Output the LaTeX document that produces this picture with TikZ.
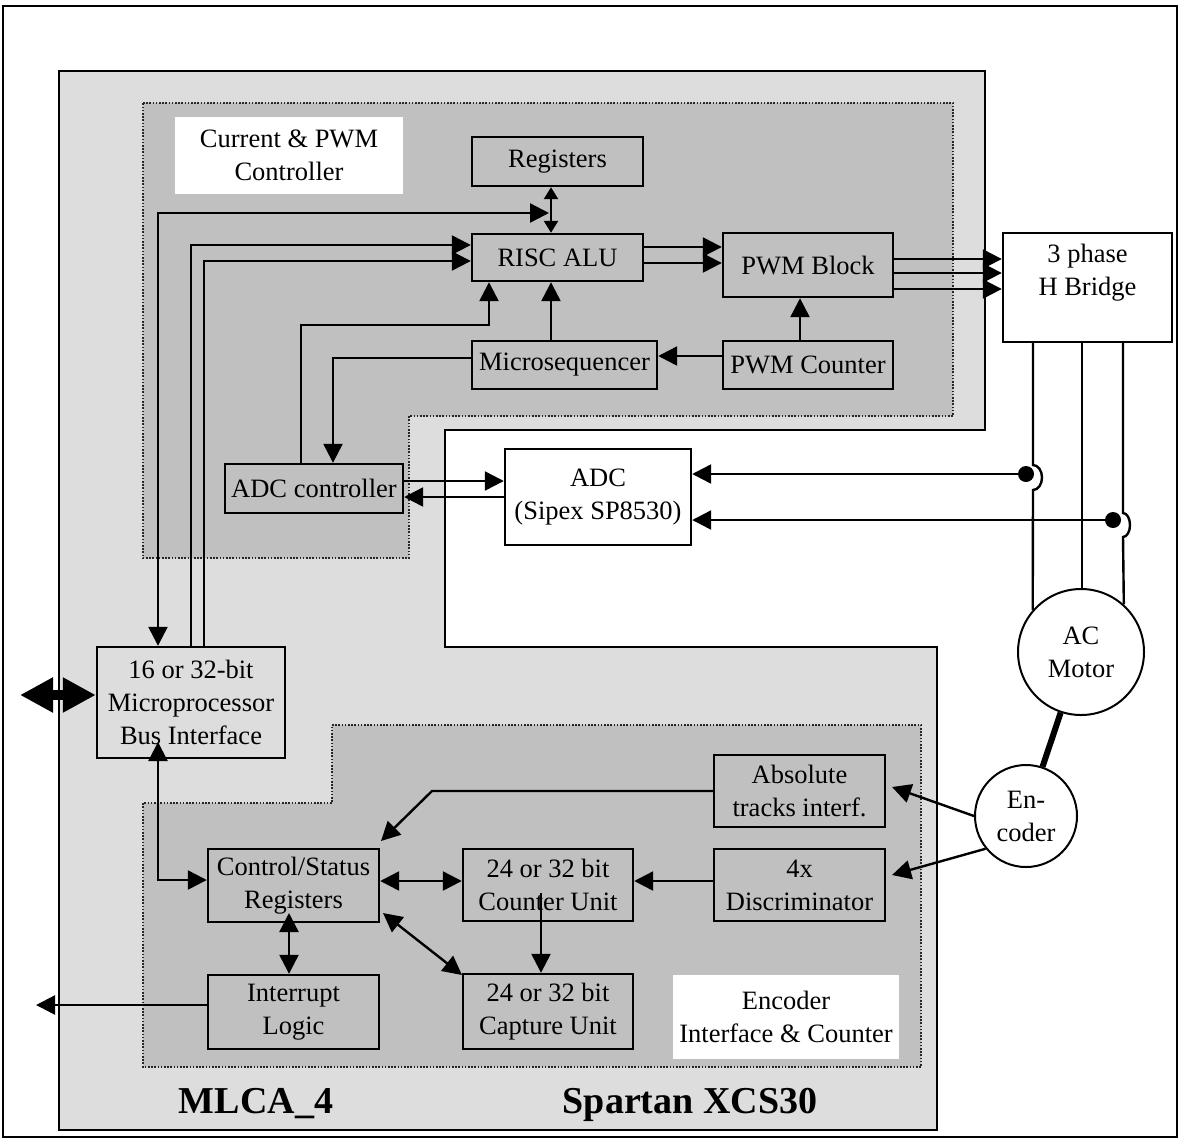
\documentclass[tikz,border=0pt]{standalone}
\usepackage{fontspec}
\setmainfont{Liberation Serif}
\usetikzlibrary{arrows.meta}
\definecolor{lgray}{HTML}{DDDDDD}
\definecolor{dgray}{HTML}{C0C0C0}
\newcommand{\fs}{\fontsize{26.5}{33}\selectfont}
\newcommand{\fbig}{\fontsize{38}{40}\selectfont\bfseries}
\begin{document}
\begin{tikzpicture}[x=1pt,y=-1pt,
  >={Triangle[length=19pt,width=19pt]},
  wire/.style={line width=2.4pt},
  box/.style={draw, line width=2.4pt, fill=dgray, inner sep=0pt, align=center, font=\fs},
  wbox/.style={box, fill=white},
  lbl/.style={fill=white, inner sep=0pt, align=center, font=\fs},
  dreg/.style={fill=dgray, draw=black!85, line width=1.6pt, dash pattern=on 1.6pt off 1.6pt},
  rnd/.style={circle, draw, line width=2pt, fill=white, inner sep=0pt, align=center, font=\fs}
]
\useasboundingbox (0,0) rectangle (1182,1141);
% frame and regions
\draw[line width=2.5pt, fill=white] (3,6) rectangle (1177,1137);
\draw[line width=2.4pt, fill=lgray] (59,71) -- (985,71) -- (985,430) -- (445,430) -- (445,647) -- (937,647) -- (937,1130) -- (59,1130) -- cycle;
\draw[dreg] (143,103) -- (953,103) -- (953,416) -- (409,416) -- (409,558) -- (143,558) -- cycle;
\draw[dreg] (332,725) -- (921,725) -- (921,1067) -- (143,1067) -- (143,803) -- (332,803) -- cycle;
% labels
\node[lbl, minimum width=228pt, minimum height=77pt] (cpwm) at (289,155.5) {Current \& PWM\\Controller};
\node[lbl, minimum width=226pt, minimum height=84pt] (encl) at (786,1017) {Encoder\\Interface \& Counter};
\node[font=\fbig, anchor=base] (mlca) at (256,1113) {MLCA\_4};
\node[font=\fbig, anchor=base] (spartan) at (690,1113) {Spartan XCS30};
% blocks
\node[box, minimum width=171pt, minimum height=49pt] (reg) at (557.5,161.5) {Registers};
\node[box, minimum width=171pt, minimum height=47pt] (alu) at (557.5,257.5) {RISC ALU};
\node[box, minimum width=170pt, minimum height=64pt] (pwm) at (808,265) {PWM Block};
\node[box, minimum width=170pt, minimum height=48pt] (pwmc) at (808,365) {PWM Counter};
\node[box, minimum width=185pt, minimum height=48pt] (mseq) at (564.5,365) {Microsequencer};
\node[wbox, minimum width=169pt, minimum height=109pt] (hb) at (1087.5,287.5) {};
\node[font=\fs, align=center] (hbt) at (1087.5,273) {3 phase\\H Bridge};
\node[box, minimum width=178pt, minimum height=49pt] (adcc) at (314,488.5) {ADC controller};
\node[wbox, minimum width=186pt, minimum height=96pt] (adc) at (598,497) {ADC\\(Sipex SP8530)};
\node[box, fill=lgray, minimum width=188pt, minimum height=111pt] (bus) at (191,702.5) {16 or 32-bit\\Microprocessor\\Bus Interface};
\node[box, minimum width=171pt, minimum height=72pt] (abs) at (799.5,791) {Absolute\\tracks interf.};
\node[box, minimum width=171pt, minimum height=72pt] (disc) at (799.5,885) {4x\\Discriminator};
\node[box, minimum width=171pt, minimum height=73pt] (cs) at (293.5,885.5) {Control/Status\\Registers};
\node[box, minimum width=170pt, minimum height=72pt] (cnt) at (548,885) {24 or 32 bit\\Counter Unit};
\node[box, minimum width=171pt, minimum height=74pt] (intr) at (293.5,1012) {Interrupt\\Logic};
\node[box, minimum width=170pt, minimum height=75pt] (cap) at (548,1011.5) {24 or 32 bit\\Capture Unit};
\node[rnd, minimum size=126pt] (motor) at (1081,652) {AC\\Motor};
\node[rnd, minimum size=102pt] (enc) at (1026,816) {En-\\coder};
% coordinates
\coordinate (j1) at (549,213);
\coordinate (xr) at (551,0);
\coordinate (xb1) at (158,0);
\coordinate (a1) at (191,245);
\coordinate (a2) at (204,261);
\coordinate (p1) at (0,247);
\coordinate (p2) at (0,263);
\coordinate (h1) at (0,259);
\coordinate (h2) at (0,273);
\coordinate (h3) at (0,289);
\coordinate (c1) at (800,0);
\coordinate (m1) at (0,356);
\coordinate (q1) at (301,325);
\coordinate (q2) at (489,325);
\coordinate (r1) at (333,358);
\coordinate (s1) at (0,481);
\coordinate (s2) at (0,497);
\coordinate (d1) at (1026,474);
\coordinate (d2) at (1113,520);
\coordinate (w1) at (1033,465);
\coordinate (w2) at (1082,0);
\coordinate (w3) at (1123,513);
\coordinate (e1) at (892,787);
\coordinate (e2) at (892,875);
\coordinate (k1) at (0,881);
\coordinate (k2) at (541,893);
\coordinate (k3) at (383,913);
\coordinate (k4) at (462,975);
\coordinate (k5) at (289,913);
\coordinate (o1) at (36,1005);
\coordinate (k6) at (158,742);
\coordinate (k7) at (158,880);
\coordinate (k8) at (432,791);
\coordinate (k9) at (381,841);
\coordinate (z1) at (20,695);
% connectors top
\draw[wire, {Triangle[length=12pt,width=14pt]}-{Triangle[length=12pt,width=14pt]}] (reg.south -| xr) -- (alu.north -| xr);
\draw[wire,<->] (bus.north -| xb1) |- (j1);
\draw[wire,->] (bus.north -| a1) |- (alu.west |- a1);
\draw[wire,->] (bus.north -| a2) |- (alu.west |- a2);
\draw[wire,->] (alu.east |- p1) -- (pwm.west |- p1);
\draw[wire,->] (alu.east |- p2) -- (pwm.west |- p2);
\draw[wire,->] (pwm.east |- h1) -- (hb.west |- h1);
\draw[wire,->] (pwm.east |- h2) -- (hb.west |- h2);
\draw[wire,->] (pwm.east |- h3) -- (hb.west |- h3);
\draw[wire,->] (pwmc.north -| c1) -- (pwm.south -| c1);
\draw[wire,->] (pwmc.west |- m1) -- (mseq.east |- m1);
\draw[wire,->] (mseq.north -| xr) -- (alu.south -| xr);
\draw[wire,->] (adcc.north -| q1) -- (q1) -- (q2) -- (alu.south -| q2);
\draw[wire,->] (mseq.west |- r1) -- (r1) -- (adcc.north -| r1);
\draw[wire,->] (adcc.east |- s1) -- (adc.west |- s1);
\draw[wire,->] (adc.west |- s2) -- (adcc.east |- s2);
% ADC sensing and motor wires
\draw[wire,->] (d1) -- (adc.east |- d1);
\draw[wire,->] (d2) -- (adc.east |- d2);
\fill (d1) circle[radius=8pt];
\fill (d2) circle[radius=8pt];
\draw[wire] (hb.south -| w1) -- (w1) arc[start angle=-90, end angle=90, x radius=9, y radius=12.5] -- (motor.139.6);
\draw[wire] (hb.south -| w2) -- (motor.north -| w2);
\draw[wire] (hb.south -| w3) -- (w3) arc[start angle=-90, end angle=90, x radius=7, y radius=12] -- (motor.48.2);
\draw[line width=6pt] (motor) -- (enc);
% encoder
\draw[wire,->] (enc.west) -- (e1);
\draw[wire,->] (enc.219) -- (e2);
\draw[wire,->] (disc.west |- k1) -- (cnt.east |- k1);
\draw[wire,<->] (cs.east |- k1) -- (cnt.west |- k1);
\draw[wire,->] (k2) -- (cap.north -| k2);
\draw[wire,<->] (k3) -- (k4);
\draw[wire,<->] (k5) -- (intr.north -| k5);
\draw[wire,->] (intr.west |- o1) -- (o1);
\draw[wire,<->] (k6) -- (k7) -- (cs.west |- k7);
\draw[wire,->] (abs.west |- k8) -- (k8) -- (k9);
\draw[line width=10pt, {Triangle[length=33pt,width=33pt]}-{Triangle[length=33pt,width=33pt]}] (z1) -- (bus.west |- z1);
\end{tikzpicture}
\end{document}
